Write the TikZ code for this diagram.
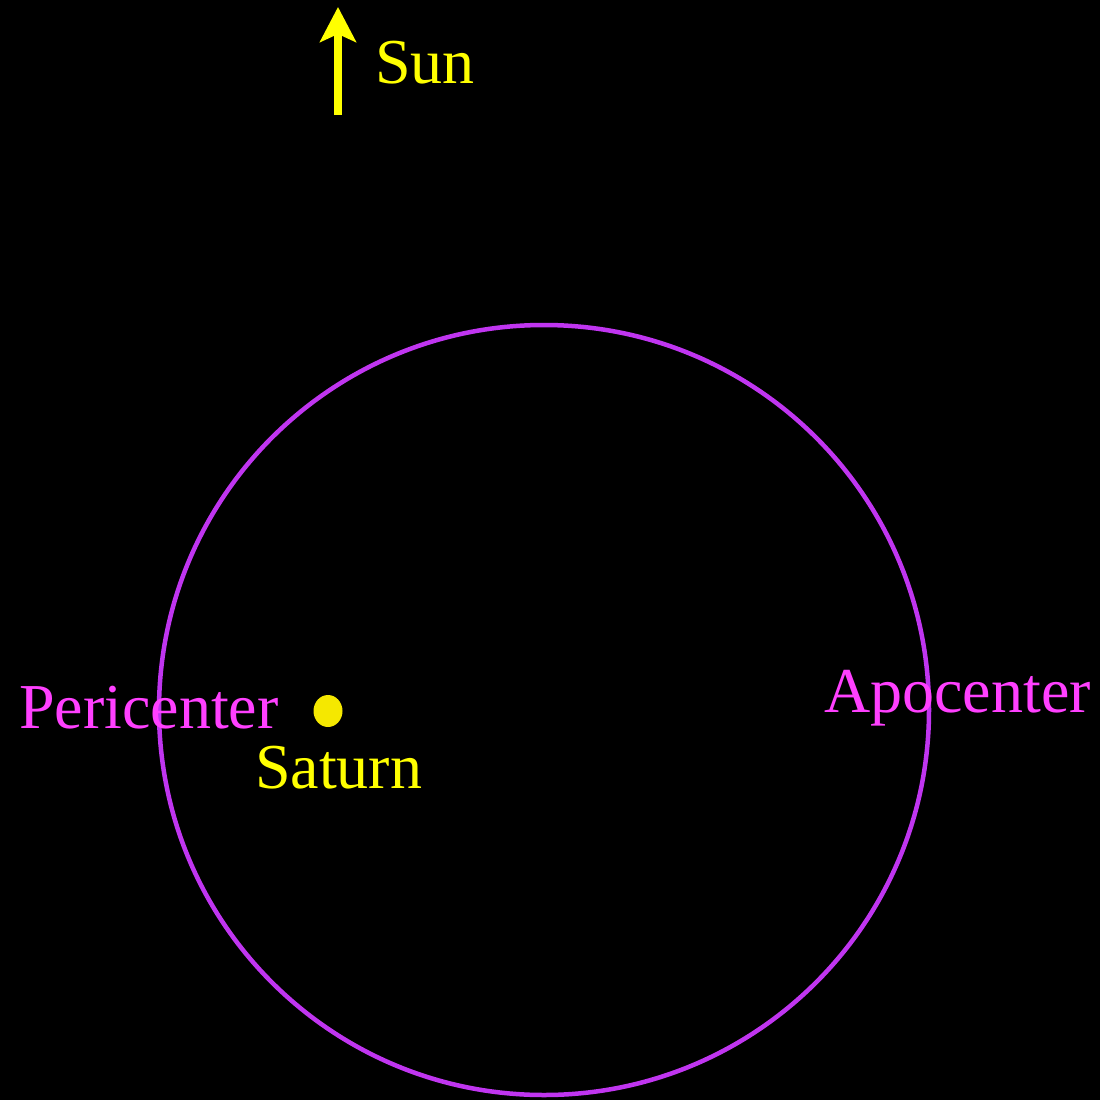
\documentclass[tikz,border=0pt]{standalone}
\usepackage{fontspec}
\setmainfont{Liberation Serif}
\usetikzlibrary{arrows.meta,shapes.geometric}
\definecolor{orbitc}{HTML}{C035F0}
\definecolor{apsis}{HTML}{FF40FF}
\definecolor{sunc}{HTML}{FFFF00}
\definecolor{dotc}{HTML}{F5E800}
\begin{document}
\begin{tikzpicture}[x=1pt,y=-1pt,
  lbl/.style={inner sep=0pt,anchor=base west,font=\fontsize{64}{64}\selectfont}]
\fill[black] (0,0) rectangle (1100,1100);
\useasboundingbox (0,0) rectangle (1100,1100);
\node[draw=orbitc,line width=4.5pt,circle,minimum size=770pt,inner sep=0pt] (orbit) at (544,710) {};
\node[fill=dotc,ellipse,minimum width=29pt,minimum height=32pt,inner sep=0pt] (saturn) at (328,711) {};
\node[lbl,text=apsis] (peri) at (19,728) {Pericenter};
\node[lbl,text=apsis] (apo) at (824,712) {Apocenter};
\node[lbl,text=sunc] (satlbl) at (255,788) {Saturn};
\node[lbl,text=sunc] (sunlbl) at (375,83) {Sun};
\coordinate (sunbase) at (338,115);
\coordinate (suntip) at (338,7);
\draw[sunc,line width=8pt,-{Stealth[length=35pt,width=36pt,inset=8pt]}] (sunbase) -- (suntip);
\end{tikzpicture}
\end{document}
